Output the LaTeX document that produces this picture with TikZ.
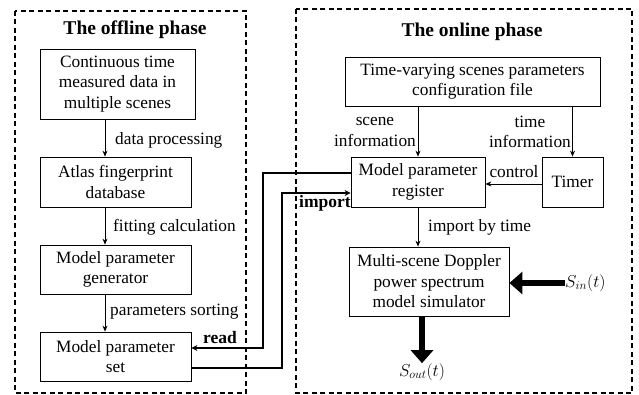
\documentclass[tikz,border=0pt]{standalone}
\usepackage{fontspec}
\setmainfont{Liberation Serif}
\usetikzlibrary{arrows.meta,calc}
\begin{document}
\begin{tikzpicture}[x=1pt,y=-1pt,
  box/.style={draw,line width=0.8pt,inner sep=0pt,align=center,font=\fontsize{17.3}{20.5}\selectfont},
  lbl/.style={inner sep=0pt,align=center,font=\fontsize{17.3}{20.5}\selectfont},
  mlbl/.style={inner sep=0pt,font=\fontsize{17.5}{20.5}\selectfont},
  blbl/.style={inner sep=0pt,font=\bfseries\fontsize{17.5}{19}\selectfont},
  title/.style={inner sep=0pt,font=\bfseries\fontsize{19.5}{22}\selectfont},
  phase/.style={draw,dash pattern=on 5pt off 3.5pt,line width=1.5pt},
  arr/.style={-{Stealth[length=6pt,width=5pt]},line width=0.8pt},
  warr/.style={-{Stealth[length=6pt,width=6pt]},line width=1.6pt},
  fat/.style={line width=6pt,-{Triangle[length=13pt,width=22pt]}}]
\useasboundingbox (0,0) rectangle (639,395);
% phase frames
\draw[phase] (15,11) rectangle (246,393);
\draw[phase] (296,9) rectangle (632,393);
\node[title] (t1) at (135,30) {The offline phase};
\node[title] (t2) at (472,32) {The online phase};
% offline boxes
\node[box,minimum width=155pt,minimum height=70pt] (b1) at (117.5,84) {Continuous time\\measured data in\\multiple scenes};
\node[box,minimum width=151pt,minimum height=50pt] (b2) at (115.5,182) {Atlas fingerprint\\database};
\node[box,minimum width=151pt,minimum height=49pt] (b3) at (115.5,269.5) {Model parameter\\generator};
\node[box,minimum width=151pt,minimum height=49pt] (b4) at (115.5,356.5) {Model parameter\\set};
\coordinate (ax) at (105,0);
\draw[arr] (b1.south -| ax) -- (b2.north -| ax);
\draw[arr] (b2.south -| ax) -- (b3.north -| ax);
\draw[arr] (b3.south -| ax) -- (b4.north -| ax);
\node[lbl,anchor=west] (l1) at (115,140) {data processing};
\node[lbl,anchor=west] (l2) at (113,227) {fitting calculation};
\node[lbl,anchor=west] (l3) at (110,312) {parameters sorting};
% online boxes
\node[box,minimum width=255pt,minimum height=49pt] (c1) at (472.5,81.5) {Time-varying scenes parameters\\configuration file};
\node[box,minimum width=134pt,minimum height=50pt] (reg) at (418,182) {Model parameter\\register};
\node[box,minimum width=61pt,minimum height=50pt] (tim) at (572.5,182) {Timer};
\node[box,minimum width=160pt,minimum height=69pt] (sim) at (429,281.5) {Multi-scene Doppler\\power spectrum\\model simulator};
\draw[arr] (c1.south -| reg) -- (reg.north);
\draw[arr] (c1.south -| tim) -- (tim.north);
\node[lbl,anchor=east] (l4) at (416,132) {scene\\information};
\node[lbl,anchor=east] (l5) at (571,132) {time\\information};
\coordinate (cy) at (0,184);
\draw[arr] (tim.west |- cy) -- (reg.east |- cy);
\node[lbl] (l6) at (514,172) {control};
\coordinate (ix) at (418,0);
\draw[arr] (reg.south -| ix) -- (sim.north -| ix);
\node[lbl,anchor=west] (l7) at (428,227) {import by time};
% read / import connectors
\coordinate (ry) at (0,173);
\coordinate (ry2) at (0,348);
\coordinate (rx) at (263,0);
\draw[warr] (reg.west |- ry) -- (rx |- ry) -- (rx |- ry2) -- (b4.east |- ry2);
\node[blbl] (l8) at (220,338) {read};
\coordinate (iy) at (0,193);
\coordinate (iy2) at (0,368);
\coordinate (ixx) at (282,0);
\draw[warr] (b4.east |- iy2) -- (ixx |- iy2) -- (ixx |- iy) -- (reg.west |- iy);
\node[blbl] (l9) at (325,203) {import};
% signals
\node[mlbl,anchor=west] (sin) at (565,283) {$S_{in}(t)$};
\node[mlbl] (sout) at (422,372) {$S_{out}(t)$};
\draw[fat] (sin.west) -- (sim.east |- sin.west);
\draw[fat] (sim.south -| sout) -- (sout.north);
\end{tikzpicture}
\end{document}
